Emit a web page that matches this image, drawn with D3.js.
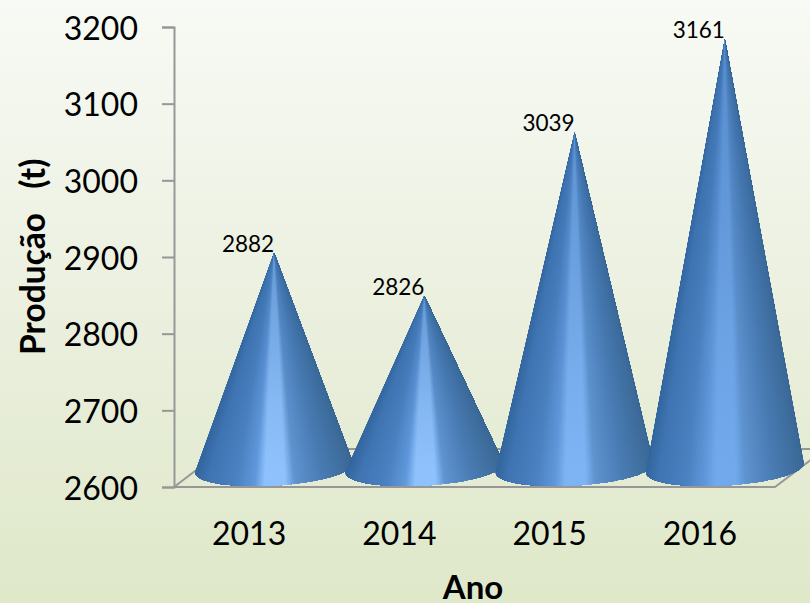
<!DOCTYPE html>
<html>
<head>
<meta charset="utf-8">
<script src="https://cdn.jsdelivr.net/npm/d3@7"></script>
<style>
  html, body { margin: 0; padding: 0; }
  svg { display: block; }
  text { font-family: Lato, "Open Sans", sans-serif; fill: #000; }
  .axis path, .axis line, .floor { stroke: #979797; stroke-width: 2; fill: none; }
</style>
</head>
<body>
<div id="chart"></div>
<script>
const years = ["2013", "2014", "2015", "2016"];
const production = [2882, 2826, 3039, 3161];
const yTicks = [2600, 2700, 2800, 2900, 3000, 3100, 3200];

const width = 810, height = 603;
const margin = { top: 27, right: 35, bottom: 116, left: 174 };
const depth = { x: 50, y: -38 };
const innerWidth = width - margin.left - margin.right;
const innerHeight = height - margin.top - margin.bottom;

const svg = d3.select("#chart").append("svg")
  .attr("width", width)
  .attr("height", height);

const defs = svg.append("defs");

const bg = defs.append("linearGradient")
  .attr("id", "bg")
  .attr("x1", 0).attr("y1", 0).attr("x2", 0).attr("y2", 1);
bg.append("stop").attr("offset", "0%").attr("stop-color", "#f8faf5");
bg.append("stop").attr("offset", "50%").attr("stop-color", "#ebf0df");
bg.append("stop").attr("offset", "100%").attr("stop-color", "#dfe8c9");

svg.append("rect")
  .attr("width", width)
  .attr("height", height)
  .attr("fill", "url(#bg)");

const g = svg.append("g")
  .attr("transform", `translate(${margin.left},${margin.top})`);

const xScale = d3.scaleBand()
  .domain(years)
  .range([0, innerWidth]);

const yScale = d3.scaleLinear()
  .domain([2600, 3200])
  .range([innerHeight, 0]);

// floor of the 3d box
const floor = [
  [0, innerHeight],
  [depth.x, innerHeight + depth.y],
  [innerWidth + depth.x, innerHeight + depth.y],
  [innerWidth, innerHeight],
  [0, innerHeight]
];
g.append("path")
  .attr("class", "floor")
  .attr("d", d3.line()(floor));

const yAxis = g.append("g")
  .attr("class", "axis")
  .call(d3.axisLeft(yScale)
    .tickValues(yTicks)
    .tickSize(12)
    .tickPadding(24)
    .tickFormat(d3.format("d")));
yAxis.selectAll("text").style("font-size", "32px").attr("dy", "0.38em");

const xAxis = g.append("g")
  .attr("class", "axis")
  .attr("transform", `translate(0,${innerHeight})`)
  .call(d3.axisBottom(xScale).tickSize(0).tickPadding(35));
xAxis.select(".domain").attr("d", `M0,0H${innerWidth}`);
xAxis.selectAll("text").style("font-size", "32px");

// cone shading, t runs from left edge (-1) to right edge (1)
const shadeT = [-1, -0.85, -0.5, -0.25, -0.13, 0.13, 0.25, 0.6, 1];
const shadeC = ["#34679f", "#4075b3", "#4b81c0", "#6199dc", "peak", "peak", "#5f94d0", "#4a7cb4", "#3b6996"];

const radiusX = 79, radiusY = 17.5, tilt = -3.5 * Math.PI / 180;
const steps = d3.range(0, 161);

const cones = g.selectAll(".cone")
  .data(years.map((year, i) => ({ year, value: production[i] })))
  .enter()
  .append("g")
  .attr("class", "cone");

cones.each(function(d, i) {
  const cx = xScale(d.year) + xScale.bandwidth() / 2 + depth.x / 2;
  const cy = yScale(2600) + depth.y / 2;
  const apex = [cx, yScale(d.value) + depth.y / 2 + 1];
  const coneH = cy - apex[1];

  const peak = d3.interpolateRgb("#8fc2fd", "#72a9ec")(Math.min(1, Math.max(0, (coneH - 220) / 200)));
  const shade = d3.scaleLinear()
    .domain(shadeT)
    .range(shadeC.map(c => c === "peak" ? peak : c))
    .interpolate(d3.interpolateRgb);

  const arc = steps.map(s => {
    const a = Math.PI * (1.04 - 1.08 * s / (steps.length - 1));
    const ex = radiusX * Math.cos(a), ey = radiusY * Math.sin(a);
    return [
      cx + ex * Math.cos(tilt) - ey * Math.sin(tilt),
      cy + ex * Math.sin(tilt) + ey * Math.cos(tilt)
    ];
  });

  // each wedge also covers the rest of the cone, the next one paints over it, no seams
  const sel = d3.select(this);
  arc.slice(0, -1).forEach((p, k) => {
    sel.append("path")
      .attr("d", d3.line()([apex, ...arc.slice(k)]) + "Z")
      .attr("fill", shade((p[0] - cx) / radiusX));
  });

  // darker towards the tip
  const gradId = "tip" + i;
  const tip = defs.append("linearGradient")
    .attr("id", gradId)
    .attr("gradientUnits", "userSpaceOnUse")
    .attr("x1", 0).attr("y1", apex[1])
    .attr("x2", 0).attr("y2", cy);
  tip.append("stop").attr("offset", "0%").attr("stop-color", "#3b6fab").attr("stop-opacity", 0.5);
  tip.append("stop").attr("offset", "70%").attr("stop-color", "#3b6fab").attr("stop-opacity", 0.1);
  tip.append("stop").attr("offset", "100%").attr("stop-color", "#3b6fab").attr("stop-opacity", 0);

  sel.append("path")
    .attr("d", d3.line()([apex, ...arc]) + "Z")
    .attr("fill", `url(#${gradId})`);

  sel.append("text")
    .attr("x", apex[0])
    .attr("y", apex[1] - 1)
    .attr("text-anchor", "end")
    .style("font-size", "22.5px")
    .text(d.value);
});

svg.append("text")
  .attr("x", 473)
  .attr("y", 599)
  .attr("text-anchor", "middle")
  .style("font-size", "33px")
  .style("font-weight", "bold")
  .text("Ano");

svg.append("text")
  .attr("transform", "translate(45,355) rotate(-90)")
  .style("white-space", "pre")
  .style("word-spacing", "4px")
  .style("font-size", "33.5px")
  .style("font-weight", "bold")
  .text("Produção  (t)");
</script>
</body>
</html>
